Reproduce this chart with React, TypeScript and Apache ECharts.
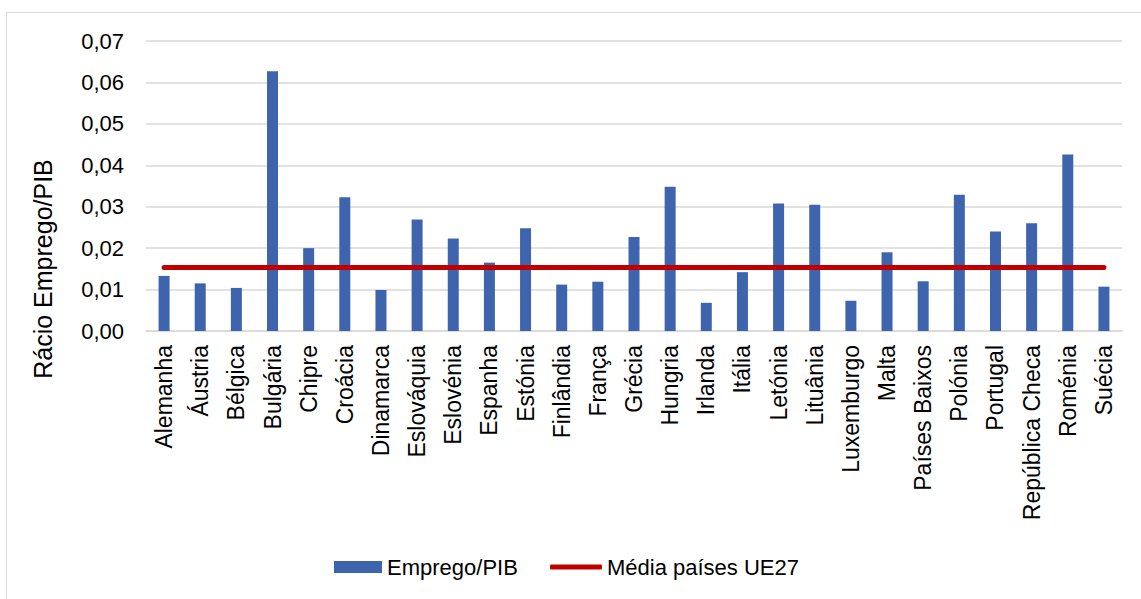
import React, { useEffect, useRef } from "react";
import * as echarts from "echarts";

const categories = [
  "Alemanha", "Áustria", "Bélgica", "Bulgária", "Chipre", "Croácia", "Dinamarca",
  "Eslováquia", "Eslovénia", "Espanha", "Estónia", "Finlândia", "França", "Grécia",
  "Hungria", "Irlanda", "Itália", "Letónia", "Lituânia", "Luxemburgo", "Malta",
  "Países Baixos", "Polónia", "Portugal", "República Checa", "Roménia", "Suécia",
];

const empregoPib = [
  0.0133, 0.0115, 0.0104, 0.0627, 0.0200, 0.0323, 0.0099,
  0.0269, 0.0223, 0.0165, 0.0248, 0.0112, 0.0119, 0.0227,
  0.0348, 0.0068, 0.0142, 0.0308, 0.0305, 0.0073, 0.0190,
  0.0120, 0.0329, 0.0240, 0.0260, 0.0426, 0.0107,
];

const euAverage = 0.0153;
const mediaUE27 = categories.map(() => euAverage);

const yTicks = { min: 0, max: 0.07, interval: 0.01 };

const FONT = "Liberation Sans, Arial, sans-serif";

export default function App() {
  const ref = useRef<HTMLDivElement>(null);

  useEffect(() => {
    if (!ref.current) return;
    const chart = echarts.init(ref.current, undefined, { renderer: "svg" });
    const legendText = { fontFamily: FONT, fontSize: 22, color: "#000000" };
    chart.setOption({
      animation: false,
      backgroundColor: "#ffffff",
      textStyle: { fontFamily: FONT },
      graphic: [
        {
          type: "rect",
          shape: { x: 6.5, y: 12.5, width: 1140, height: 600 },
          style: { fill: "none", stroke: "#d9d9d9", lineWidth: 1 },
          silent: true,
        },
        {
          type: "text",
          x: 43,
          y: 269,
          rotation: Math.PI / 2,
          style: {
            text: "Rácio Emprego/PIB",
            fontFamily: FONT,
            fontSize: 25,
            fill: "#000000",
            align: "center",
            verticalAlign: "middle",
          },
        },
      ],
      grid: { left: 146, right: 19, top: 41, bottom: 268, containLabel: false },
      legend: [
        {
          left: 329,
          top: 551,
          height: 26,
          itemWidth: 48,
          itemHeight: 12,
          textStyle: legendText,
          data: [{ name: "Emprego/PIB", icon: "rect" }],
        },
        {
          left: 545,
          top: 551,
          height: 26,
          itemWidth: 52,
          itemHeight: 5,
          textStyle: legendText,
          data: [{ name: "Média países UE27", icon: "roundRect" }],
        },
      ],
      xAxis: {
        type: "category",
        data: categories,
        boundaryGap: true,
        axisLine: { show: true, lineStyle: { color: "#d9d9d9", width: 1.5 } },
        axisTick: { show: false },
        axisLabel: {
          interval: 0,
          rotate: 90,
          margin: 14,
          fontFamily: FONT,
          fontSize: 23,
          color: "#000000",
        },
      },
      yAxis: {
        type: "value",
        min: yTicks.min,
        max: yTicks.max,
        interval: yTicks.interval,
        axisLine: { show: false },
        axisTick: { show: false },
        splitLine: { lineStyle: { color: "#d9d9d9", width: 1.5 } },
        axisLabel: {
          margin: 22,
          fontFamily: FONT,
          fontSize: 22,
          color: "#000000",
          formatter: (v: number) => v.toFixed(2).replace(".", ","),
        },
      },
      series: [
        {
          name: "Emprego/PIB",
          type: "bar",
          data: empregoPib,
          barWidth: 11,
          itemStyle: { color: "#3e64ad" },
        },
        {
          name: "Média países UE27",
          type: "line",
          data: mediaUE27,
          symbol: "none",
          lineStyle: { color: "#c00000", width: 5, cap: "round" },
          itemStyle: { color: "#c00000" },
        },
      ],
    });
    return () => chart.dispose();
  }, []);

  return (
    <div
      ref={ref}
      style={{ position: "fixed", left: 0, top: 0, width: 1141, height: 599 }}
    />
  );
}
